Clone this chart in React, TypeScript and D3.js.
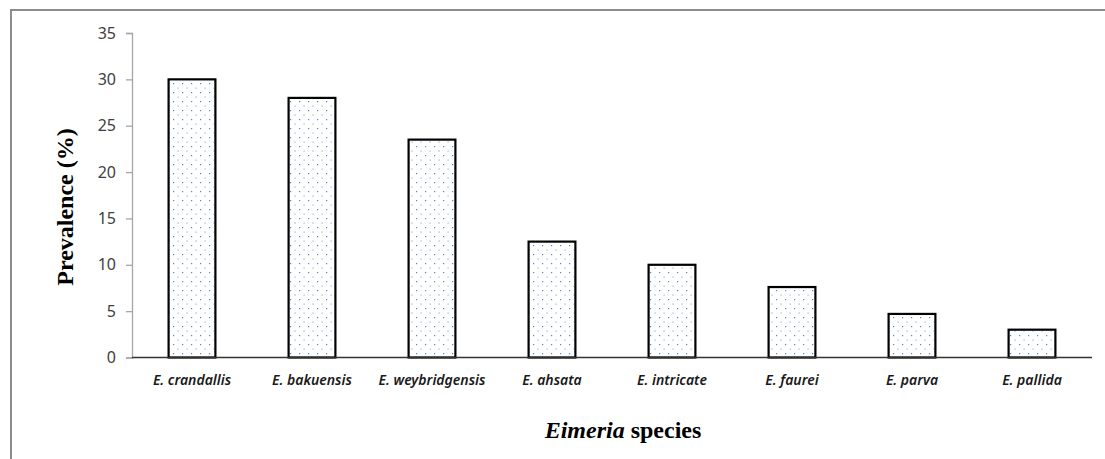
import { useEffect, useRef } from "react"
import * as d3 from "d3"

const species = [
  "E. crandallis",
  "E. bakuensis",
  "E. weybridgensis",
  "E. ahsata",
  "E. intricate",
  "E. faurei",
  "E. parva",
  "E. pallida",
]
const prevalence = [30, 28, 23.5, 12.5, 10, 7.6, 4.7, 3]
const yTicks = [0, 5, 10, 15, 20, 25, 30, 35]

export default function App() {
  const svgRef = useRef<SVGSVGElement>(null)

  useEffect(() => {
    if (!svgRef.current) return
    const svg = d3.select(svgRef.current)
    svg.selectAll("*").remove()

    const width = 1105
    const height = 459
    svg.attr("width", width).attr("height", height)

    // dotted fill like the Excel pattern
    const defs = svg.append("defs")
    const pat = defs
      .append("pattern")
      .attr("id", "dots")
      .attr("patternUnits", "userSpaceOnUse")
      .attr("width", 9)
      .attr("height", 9)
    pat.append("rect").attr("width", 9).attr("height", 9).attr("fill", "#fff")
    pat.append("rect").attr("x", 2).attr("y", 2).attr("width", 1.2).attr("height", 1.2).attr("fill", "#4f86d6")
    pat.append("rect").attr("x", 6.5).attr("y", 6.5).attr("width", 1.2).attr("height", 1.2).attr("fill", "#90b3e6")

    // outer frame
    svg
      .append("rect")
      .attr("x", 11)
      .attr("y", 10)
      .attr("width", 1200)
      .attr("height", 600)
      .attr("fill", "none")
      .attr("stroke", "#8c8c8c")
      .attr("stroke-width", 2)

    const x = d3.scaleBand().domain(species).range([132, 1092]).paddingInner(0.61).paddingOuter(0.305)
    const y = d3.scaleLinear().domain([0, 35]).range([357.5, 33])

    // y axis
    const yAxis = svg
      .append("g")
      .attr("transform", "translate(132,0)")
      .call(d3.axisLeft(y).tickValues(yTicks).tickSize(6).tickPadding(10))
    yAxis.select(".domain").attr("stroke", "#a6a6a6").attr("stroke-width", 1.3)
    yAxis.selectAll(".tick line").attr("stroke", "#a6a6a6").attr("stroke-width", 1.3)
    yAxis
      .selectAll(".tick text")
      .attr("fill", "#404040")
      .style("font-family", "'Noto Sans', sans-serif")
      .style("font-size", "16px")

    // bars
    svg
      .selectAll(".bar")
      .data(prevalence)
      .enter()
      .append("rect")
      .attr("class", "bar")
      .attr("x", (_, i) => x(species[i]) || 0)
      .attr("y", (d) => y(d))
      .attr("width", x.bandwidth())
      .attr("height", (d) => y(0) - y(d))
      .attr("fill", "url(#dots)")
      .attr("stroke", "#000")
      .attr("stroke-width", 2.2)

    // x axis line
    svg
      .append("line")
      .attr("x1", 132)
      .attr("x2", 1092)
      .attr("y1", y(0))
      .attr("y2", y(0))
      .attr("stroke", "#333")
      .attr("stroke-width", 1.3)

    // category labels
    svg
      .selectAll(".cat")
      .data(species)
      .enter()
      .append("text")
      .attr("class", "cat")
      .attr("x", (d) => (x(d) || 0) + x.bandwidth() / 2)
      .attr("y", 385)
      .attr("text-anchor", "middle")
      .attr("fill", "#1a1a1a")
      .style("font-family", "'Noto Sans', sans-serif")
      .style("font-style", "italic")
      .style("font-weight", "600")
      .style("font-size", "14px")
      .text((d) => d)

    // y title
    svg
      .append("text")
      .attr("transform", "translate(73,207) rotate(-90)")
      .attr("text-anchor", "middle")
      .style("font-family", "'Liberation Serif', serif")
      .style("font-weight", "bold")
      .style("font-size", "24px")
      .text("Prevalence (%)")

    // x title
    const xt = svg
      .append("text")
      .attr("x", 623)
      .attr("y", 438)
      .attr("text-anchor", "middle")
      .style("font-family", "'Liberation Serif', serif")
      .style("font-weight", "bold")
      .style("font-size", "24px")
    xt.append("tspan").style("font-style", "italic").text("Eimeria")
    xt.append("tspan").text(" species")
  }, [])

  return (
    <div style={{ position: "absolute", left: 0, top: 0 }}>
      <svg ref={svgRef} style={{ display: "block" }} />
    </div>
  )
}
